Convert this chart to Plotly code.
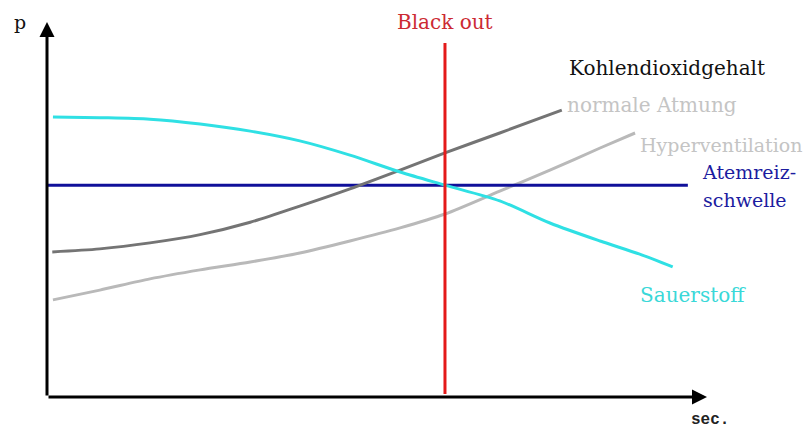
import plotly.graph_objects as go

# ---- data (schematic units: time 0..100, pressure 0..100) ----
o2_t = [0.9, 8.0, 15.6, 23.2, 30.8, 38.3, 45.9, 53.5, 60.3, 68.6, 76.2, 83.8, 89.8, 94.8]
o2_p = [74.7, 74.5, 74.1, 72.8, 70.9, 68.3, 64.5, 60.0, 56.5, 52.3, 46.4, 41.6, 38.1, 34.7]

co2_norm_t = [0.8, 8.0, 15.6, 23.2, 30.8, 38.3, 45.9, 53.5, 60.3, 68.6, 78.0]
co2_norm_p = [38.7, 39.5, 41.1, 43.3, 46.6, 50.9, 55.5, 60.5, 65.1, 70.4, 76.5]

co2_hyper_t = [0.9, 8.0, 15.6, 23.2, 30.8, 38.3, 45.9, 53.5, 60.3, 68.6, 76.2, 83.8, 89.1]
co2_hyper_p = [25.9, 28.5, 31.5, 33.9, 36.0, 38.4, 41.6, 45.1, 48.8, 54.9, 60.5, 66.4, 70.4]

threshold_t = [0.0, 97.1]
threshold_p = [56.5, 56.5]

blackout_t = [60.3, 60.3]
blackout_p = [0.8, 94.4]

fig = go.Figure()

fig.add_trace(go.Scatter(x=co2_hyper_t, y=co2_hyper_p, mode="lines",
                         line=dict(color="#b9b9b9", width=3, shape="spline", smoothing=0.8)))
fig.add_trace(go.Scatter(x=threshold_t, y=threshold_p, mode="lines",
                         line=dict(color="#10109a", width=3)))
fig.add_trace(go.Scatter(x=co2_norm_t, y=co2_norm_p, mode="lines",
                         line=dict(color="#747474", width=3, shape="spline", smoothing=0.8)))
fig.add_trace(go.Scatter(x=o2_t, y=o2_p, mode="lines",
                         line=dict(color="#2fe0e4", width=3, shape="spline", smoothing=0.8)))
fig.add_trace(go.Scatter(x=blackout_t, y=blackout_p, mode="lines",
                         line=dict(color="#e41a1a", width=3)))

serif = "DejaVu Serif"
labels = [
    ("Black out", 60.3, 100.0, "center", "#cc2a33", 20),
    ("Kohlendioxidgehalt", 78.8, 87.7, "left", "#111111", 20),
    ("normale Atmung", 78.5, 77.9, "left", "#c4c4c4", 20),
    ("Hyperventilation", 89.5, 67.2, "left", "#c4c4c4", 19),
    ("Atemreiz-", 98.9, 60.0, "left", "#1c1ca0", 19),
    ("schwelle", 99.1, 52.5, "left", "#1c1ca0", 19),
    ("Sauerstoff", 97.9, 27.2, "center", "#3ad8d8", 20),
]
for txt, x, y, anc, col, sz in labels:
    fig.add_annotation(x=x, y=y, xref="x", yref="y", text=txt, showarrow=False,
                       xanchor=anc, yanchor="middle",
                       font=dict(family=serif, size=sz, color=col))

# axis titles (outside the data range, so placed in paper coordinates)
fig.add_annotation(x=-0.041, y=1.0, xref="paper", yref="paper", text="p", showarrow=False,
                   xanchor="center", yanchor="middle",
                   font=dict(family=serif, size=19, color="#111111"))
fig.add_annotation(x=1.0045, y=-0.062, xref="paper", yref="paper", text="<b>sec.</b>",
                   showarrow=False, xanchor="center", yanchor="middle",
                   font=dict(family="Liberation Mono", size=16, color="#222222"))

# axis arrows
fig.add_annotation(x=0, y=100, ax=0, ay=0, xref="x", yref="y", axref="x", ayref="y",
                   text="", showarrow=True, arrowhead=2, arrowsize=1.0, arrowwidth=3,
                   arrowcolor="#000000")
fig.add_annotation(x=100, y=0, ax=0, ay=0, xref="x", yref="y", axref="x", ayref="y",
                   text="", showarrow=True, arrowhead=2, arrowsize=1.0, arrowwidth=3,
                   arrowcolor="#000000")

# page body has an 8px margin; size the figure so the plot lands where the reference has it
fig.update_layout(
    width=804, height=421,
    margin=dict(l=39, r=105, t=14, b=32),
    paper_bgcolor="white", plot_bgcolor="white",
    showlegend=False,
)
fig.update_xaxes(range=[0, 100], visible=False, showgrid=False, zeroline=False)
fig.update_yaxes(range=[0, 100], visible=False, showgrid=False, zeroline=False)

fig.write_html("out.html")
